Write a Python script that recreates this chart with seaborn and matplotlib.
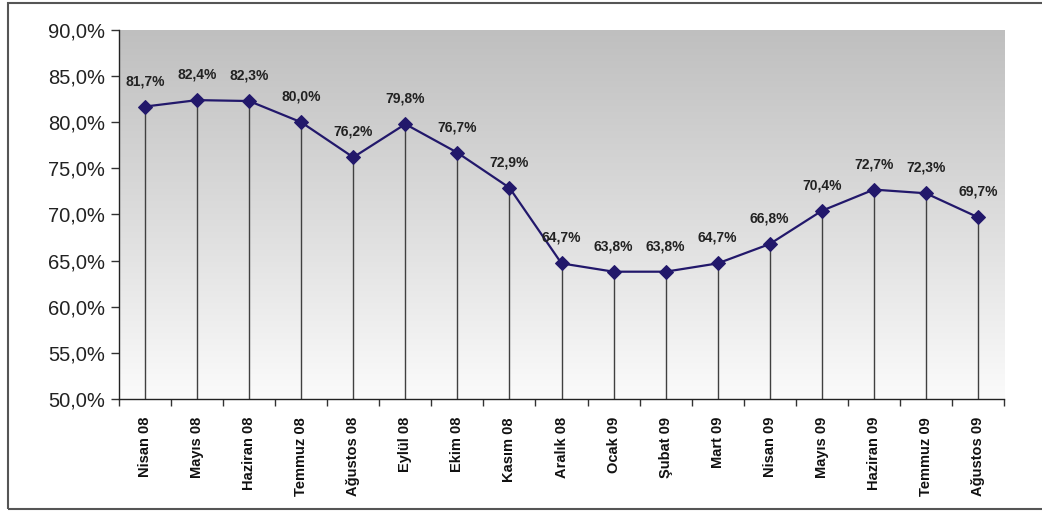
import matplotlib
matplotlib.use("Agg")
import matplotlib.pyplot as plt
import seaborn as sns
import numpy as np
import pandas as pd
from matplotlib.patches import Rectangle
from matplotlib.colors import LinearSegmentedColormap

months = ["Nisan 08", "Mayıs 08", "Haziran 08", "Temmuz 08", "Ağustos 08", "Eylül 08",
          "Ekim 08", "Kasım 08", "Aralık 08", "Ocak 09", "Şubat 09", "Mart 09",
          "Nisan 09", "Mayıs 09", "Haziran 09", "Temmuz 09", "Ağustos 09"]
values = [81.7, 82.4, 82.3, 80.0, 76.2, 79.8, 76.7, 72.9, 64.7, 63.8, 63.8, 64.7,
          66.8, 70.4, 72.7, 72.3, 69.7]
y_ticks = [50, 55, 60, 65, 70, 75, 80, 85, 90]

sns.set_theme(style="white")
plt.rcParams['font.family'] = ['Liberation Sans', 'DejaVu Sans']

df = pd.DataFrame({"idx": np.arange(len(months)), "month": months, "value": values})

fig = plt.figure(figsize=(10.42, 5.11), dpi=100)
W, H = 1042, 511
ax = fig.add_axes([119 / W, (H - 399) / H, (1004 - 119) / W, (399 - 30) / H])

# outer frame
fig.patches.append(Rectangle((8 / W, 2.5 / H), 1.2, (508 - 2.5) / H, transform=fig.transFigure,
                             fill=False, edgecolor="#555555", linewidth=1.5, zorder=0))

# gradient background
grad = np.linspace(0, 1, 256).reshape(-1, 1)
cmap = LinearSegmentedColormap.from_list("g", ["#bfbfbf", "#dcdcdc", "#fbfbfb"])
ax.imshow(grad, aspect="auto", cmap=cmap, extent=(0, 1, 0, 1), transform=ax.transAxes,
          zorder=0, interpolation="bicubic")

ax.set_xlim(-0.5, len(months) - 0.5)
ax.set_ylim(50, 90)

# drop lines
ax.vlines(df["idx"], 50, df["value"], colors="#404040", linewidth=1.0, zorder=2)

sns.lineplot(data=df, x="idx", y="value", ax=ax, color="#22186b", linewidth=1.6,
             marker="D", markersize=7, markeredgecolor="#22186b", zorder=3)

for i, v in zip(df["idx"], df["value"]):
    ax.text(i, v + 2.0, f"{v:.1f}%".replace(".", ","), ha="center", va="bottom",
            fontsize=10, fontweight="bold", color="#222222", zorder=4)

ax.set_yticks(y_ticks)
ax.set_yticklabels([f"{t:.1f}%".replace(".", ",") for t in y_ticks], fontsize=14.5, color="#222222")
ax.set_xticks(np.arange(-0.5, len(months), 1.0))
ax.set_xticklabels([])
ax.set_xticks(df["idx"], minor=True)
ax.set_xticklabels(months, minor=True, rotation=90, fontsize=10.5, fontweight="bold", color="#111111")
ax.tick_params(axis="x", which="major", direction="out", length=5, width=1, color="#333333", bottom=True)
ax.tick_params(axis="x", which="minor", length=0, pad=13)
ax.tick_params(axis="y", direction="out", length=6, width=1, color="#333333", left=True, pad=4)

ax.set_xlabel("")
ax.set_ylabel("")
for s in ["top", "right"]:
    ax.spines[s].set_visible(False)
for s in ["left", "bottom"]:
    ax.spines[s].set_color("#222222")
    ax.spines[s].set_linewidth(1.0)

fig.savefig("out.png", dpi=100)
